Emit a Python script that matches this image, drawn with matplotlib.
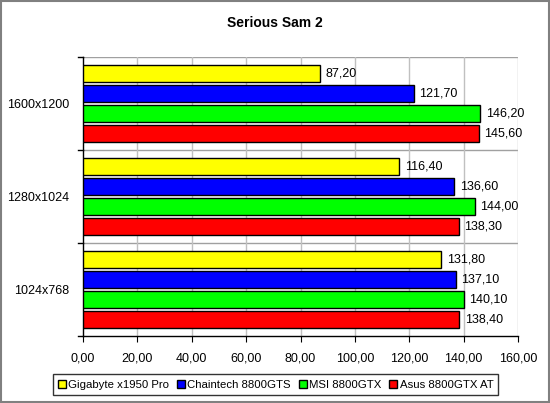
import matplotlib
matplotlib.use('Agg')
import matplotlib.pyplot as plt
from matplotlib.patches import Rectangle

categories = ['1600x1200', '1280x1024', '1024x768']
series_names = ['Gigabyte x1950 Pro', 'Chaintech 8800GTS', 'MSI 8800GTX', 'Asus 8800GTX AT']
gigabyte = [87.2, 116.4, 131.8]
chaintech = [121.7, 136.6, 137.1]
msi = [146.2, 144.0, 140.1]
asus = [145.6, 138.3, 138.4]
colors = ['#ffff00', '#0000ff', '#00ff00', '#ff0000']
x_ticks = [0, 20, 40, 60, 80, 100, 120, 140, 160]

plt.rcParams['font.family'] = ['Liberation Sans', 'DejaVu Sans']

fig = plt.figure(figsize=(5.5, 4.03), dpi=100, facecolor='w')
ax = fig.add_axes([83 / 550, 1 - 336 / 403, (518 - 83) / 550, (336 - 57) / 403])

# frame round the whole picture
fig.patches.append(Rectangle((0.002, 0.002), 0.996, 0.995, transform=fig.transFigure,
                             fill=False, edgecolor='#808080', linewidth=1.5))

pitch = 0.216
height = 0.187
all_series = [gigabyte, chaintech, msi, asus]
n = len(categories)
for j, vals in enumerate(all_series):
    for i, v in enumerate(vals):
        center = (n - 1 - i) + 0.5 + (1.5 - j) * pitch
        ax.barh(center, v, height=height, color=colors[j], edgecolor='k', linewidth=1.0,
                label=series_names[j] if i == 0 else None, zorder=3)
        ax.text(v + 2.0, center, ('%.2f' % v).replace('.', ','), va='center', ha='left',
                fontsize=9, zorder=4)

ax.set_xlim(0, 160)
ax.set_ylim(0, n)
ax.set_xticks(x_ticks)
ax.set_xticklabels([('%.2f' % t).replace('.', ',') for t in x_ticks], fontsize=9)
ax.set_yticks([i + 0.5 for i in range(n)])
ax.set_yticklabels(categories[::-1], fontsize=9)
ax.tick_params(axis='y', length=0, pad=10)
ax.tick_params(axis='x', length=4, direction='out', pad=8)

# separators between categories and vertical grid
for y in range(1, n + 1):
    ax.axhline(y, color='#a0a0a0', linewidth=1.0, zorder=1)
for t in x_ticks[1:]:
    ax.axvline(t, color='#c0c0c0', linewidth=1.0, zorder=1)
for y in range(0, n + 1):
    ax.plot([-0.012, 0], [y, y], transform=ax.get_yaxis_transform(), color='k',
            linewidth=1.0, clip_on=False)

for s in ['top', 'right']:
    ax.spines[s].set_visible(False)
ax.spines['left'].set_linewidth(1.0)
ax.spines['bottom'].set_linewidth(1.0)

fig.text(0.5, 1 - 23 / 403, 'Serious Sam 2', ha='center', va='center',
         fontsize=10, fontweight='bold')

leg = fig.legend(loc='center', bbox_to_anchor=(275.5 / 550, 1 - 384.5 / 403), ncol=4,
                 fontsize=8.2, frameon=True, fancybox=False, edgecolor='k',
                 handlelength=0.7, handleheight=0.7, handletextpad=0.2,
                 columnspacing=0.7, borderpad=0.45, borderaxespad=0)
leg.get_frame().set_linewidth(1.0)

plt.savefig('out.png', dpi=100)
